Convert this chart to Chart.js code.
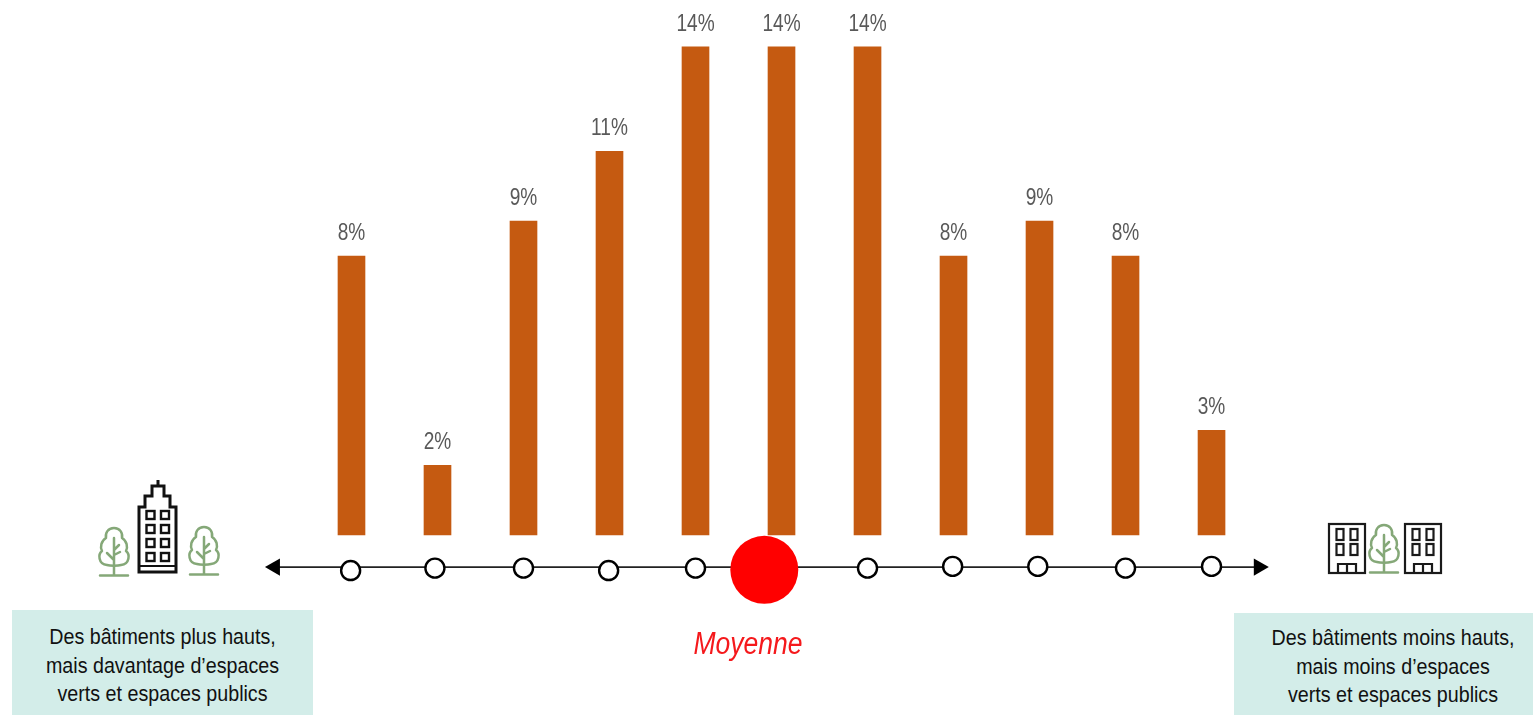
<!DOCTYPE html>
<html lang="fr">
<head>
<meta charset="utf-8">
<title>Répartition</title>
<script src="https://cdn.jsdelivr.net/npm/chart.js@4"></script>
<style>
  html, body { margin: 0; padding: 0; background: #fff; }
  #wrap { position: relative; width: 1533px; height: 715px; overflow: hidden;
          font-family: "Liberation Sans", Arial, sans-serif; }
  #wrap canvas { position: absolute; left: 0; top: 0; }
  .box { position: absolute; background: #d3ede9; box-sizing: border-box; }
  .box div { color: #111; text-align: center; white-space: nowrap;
             font-size: 22px; line-height: 28.7px; transform: scaleX(0.895); }
  #boxLeft { left: 12px; top: 610px; width: 301px; height: 105px; padding-top: 13px; }
  #boxRight { left: 1234px; top: 613px; width: 299px; height: 102px; padding: 11px 0 0 19px; }
  #mean { position: absolute; left: 648px; width: 200px; top: 627px; text-align: center;
          color: #f5191c; font-size: 31px; font-style: italic; line-height: 34px;
          transform: scaleX(0.855); }
  svg.icon { position: absolute; overflow: visible; fill: none; }
</style>
</head>
<body>
<div id="wrap">
  <canvas id="densityChart"></canvas>

  <svg width="0" height="0" style="position:absolute">
    <defs>
      <g id="tree" stroke="#85a878" stroke-width="2.5" stroke-linecap="round" stroke-linejoin="round">
        <path d="M17 1C11 1 8 6 9 11C4 14 3 20 5 24C1 27 1 37 10 38C13 39 21 39 24 38C33 37 33 27 29 24C31 20 30 14 25 11C26 6 23 1 17 1Z"/>
        <path d="M17 11V48M17 23L22 18M17 33L10 26M17 28L23 25M3 48.5H31"/>
      </g>
      <g id="block" stroke="#1a1a1a" stroke-width="2.2">
        <rect x="1" y="1" width="36" height="49"/>
        <rect x="8.5" y="6" width="7" height="11"/><rect x="22.5" y="6" width="7" height="11"/>
        <rect x="8.5" y="21" width="7" height="11"/><rect x="22.5" y="21" width="7" height="11"/>
        <path d="M10 50V41H28V50M19 41V50"/>
      </g>
    </defs>
  </svg>

  <svg class="icon" style="left:97px;top:527px" width="34" height="50"><use href="#tree"/></svg>
  <svg class="icon" style="left:187px;top:526px" width="34" height="50"><use href="#tree"/></svg>
  <svg class="icon" style="left:137px;top:478px" width="42" height="97" stroke="#111" stroke-width="3">
    <path d="M21 2V8M15 8H27V18H33V29H39V94H2V29H8V18H15Z"/>
    <path d="M2 88H39" stroke-width="2"/>
    <g stroke-width="2.4">
      <rect x="9.5" y="33" width="8" height="8"/><rect x="24" y="33" width="8" height="8"/>
      <rect x="9.5" y="47" width="8" height="8"/><rect x="24" y="47" width="8" height="8"/>
      <rect x="9.5" y="61" width="8" height="8"/><rect x="24" y="61" width="8" height="8"/>
      <rect x="9.5" y="75" width="8" height="8"/><rect x="24" y="75" width="8" height="8"/>
    </g>
  </svg>
  <svg class="icon" style="left:1328px;top:523px" width="38" height="51"><use href="#block"/></svg>
  <svg class="icon" style="left:1367px;top:524px" width="34" height="50"><use href="#tree"/></svg>
  <svg class="icon" style="left:1404px;top:523px" width="38" height="51"><use href="#block"/></svg>

  <div id="mean">Moyenne</div>
  <div class="box" id="boxLeft"><div>Des bâtiments plus hauts,<br>mais davantage d’espaces<br>verts et espaces publics</div></div>
  <div class="box" id="boxRight"><div>Des bâtiments moins hauts,<br>mais moins d’espaces<br>verts et espaces publics</div></div>
</div>

<script>
// valeurs
const positions = [0, 1, 2, 3, 4, 5, 6, 7, 8, 9, 10];
const shares = [8, 2, 9, 11, 14, 14, 14, 8, 9, 8, 3];

// axe du bas (en unites de position / de pourcentage)
const axisEndsX = [-0.89, 10.55];
const axisY = -0.92;
const dotsX = [-0.01, 0.97, 2, 2.99, 4, 6, 6.99, 7.98, 9, 10];
const dotsY = [-1.02, -0.95, -0.95, -1.02, -0.95, -0.95, -0.9, -0.9, -0.95, -0.9];
const meanX = 4.8;
const meanY = -1;

// bornes choisies pour que le trace occupe tout le canvas
const xRange = [-4.087, 13.738];
const yRange = [-5.162, 15.343];

const barLabels = {
    id: 'barLabels',
    afterDatasetsDraw(chart) {
        const ctx = chart.ctx;
        const bars = chart.getDatasetMeta(0).data;
        ctx.save();
        ctx.font = '23px "Liberation Sans", Arial, sans-serif';
        ctx.fillStyle = '#595959';
        ctx.textAlign = 'center';
        ctx.textBaseline = 'alphabetic';
        bars.forEach((bar, i) => {
            ctx.save();
            ctx.translate(bar.x, bar.y - 16);
            ctx.scale(0.83, 1);
            ctx.fillText(shares[i] + '%', 0, 0);
            ctx.restore();
        });
        ctx.restore();
    }
};

new Chart(document.getElementById('densityChart'), {
    data: {
        datasets: [
            {
                type: 'bar',
                data: positions.map((x, i) => ({ x: x, y: shares[i] })),
                backgroundColor: '#c55a11',
                barThickness: 27,
                order: 4
            },
            {
                type: 'line',
                data: axisEndsX.map(x => ({ x: x, y: axisY })),
                borderColor: '#222',
                borderWidth: 1.6,
                pointRadius: 0,
                order: 3
            },
            {
                type: 'line',
                data: axisEndsX.map(x => ({ x: x, y: axisY })),
                showLine: false,
                pointStyle: 'triangle',
                pointRadius: 10,
                pointRotation: [-90, 90],
                pointBackgroundColor: '#000',
                pointBorderWidth: 0,
                order: 2
            },
            {
                type: 'line',
                data: dotsX.map((x, i) => ({ x: x, y: dotsY[i] })),
                showLine: false,
                pointRadius: 9.5,
                pointBackgroundColor: '#fff',
                pointBorderColor: '#000',
                pointBorderWidth: 2.4,
                order: 1
            },
            {
                type: 'line',
                data: [{ x: meanX, y: meanY }],
                showLine: false,
                pointRadius: 34,
                pointBackgroundColor: '#ff0000',
                pointBorderWidth: 0,
                order: 0
            }
        ]
    },
    options: {
        responsive: true,
        maintainAspectRatio: false,
        animation: false,
        layout: { autoPadding: false, padding: 0 },
        plugins: {
            legend: { display: false },
            tooltip: { enabled: false }
        },
        scales: {
            x: { type: 'linear', display: false, min: xRange[0], max: xRange[1], offset: false },
            y: { display: false, min: yRange[0], max: yRange[1] }
        }
    },
    plugins: [barLabels]
});
</script>
</body>
</html>
